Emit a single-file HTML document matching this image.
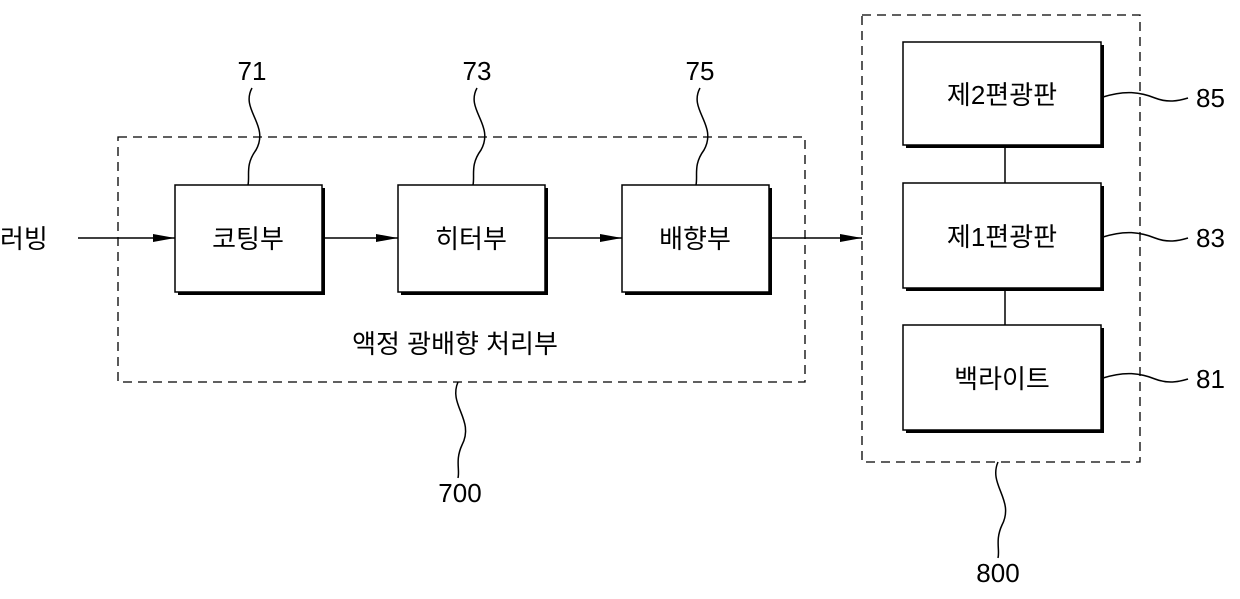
<!DOCTYPE html>
<html><head><meta charset="utf-8"><style>
html,body{margin:0;padding:0;background:#fff;}
svg text{font-family:"Liberation Sans","Noto Sans CJK KR",sans-serif;fill:#000;}
</style></head><body>
<svg width="1240" height="594" viewBox="0 0 1240 594" xmlns="http://www.w3.org/2000/svg">
<defs><marker id="a" markerWidth="22" markerHeight="10" refX="22" refY="5" orient="auto" markerUnits="userSpaceOnUse"><path d="M0,1 L22,5 L0,9 Z" fill="#000"/></marker></defs>
<g fill="none" stroke="#000" stroke-width="1.3" stroke-dasharray="9,6">
<rect x="118" y="137" width="687" height="245"/>
<rect x="862" y="15" width="278" height="447"/>
</g>
<g fill="#000">
<rect x="178" y="188" width="147" height="107"/>
<rect x="401" y="188" width="147" height="107"/>
<rect x="625" y="188" width="147" height="107"/>
<rect x="906" y="45" width="198" height="103"/>
<rect x="906" y="186" width="198" height="105"/>
<rect x="906" y="328" width="198" height="105"/>
</g>
<g fill="#fff" stroke="#000" stroke-width="1.5">
<rect x="175" y="185" width="147" height="107"/>
<rect x="398" y="185" width="147" height="107"/>
<rect x="622" y="185" width="147" height="107"/>
<rect x="903" y="42" width="198" height="103"/>
<rect x="903" y="183" width="198" height="105"/>
<rect x="903" y="325" width="198" height="105"/>
</g>
<g stroke="#000" stroke-width="1.5" fill="none">
<line x1="78" y1="238" x2="175" y2="238" marker-end="url(#a)"/>
<line x1="325" y1="238" x2="398" y2="238" marker-end="url(#a)"/>
<line x1="548" y1="238" x2="622" y2="238" marker-end="url(#a)"/>
<line x1="772" y1="238" x2="862" y2="238" marker-end="url(#a)"/>
<line x1="1005" y1="148" x2="1005" y2="183"/>
<line x1="1005" y1="291" x2="1005" y2="325"/>
<path d="M252,88 C240,110 270,125 256,150 C245,165 250,175 248,185"/>
<path d="M477,88 C465,110 495,125 481,150 C470,165 475,175 473,185"/>
<path d="M700,88 C688,110 718,125 704,150 C693,165 698,175 696,185"/>
<path d="M1103,97 C1125,90 1140,92 1155,98 C1168,103 1178,101 1188,98"/>
<path d="M1103,237 C1125,230 1140,232 1155,238 C1168,243 1178,241 1188,238"/>
<path d="M1103,378 C1125,371 1140,373 1155,379 C1168,384 1178,382 1188,379"/>
<path d="M458,382 C448,405 475,420 462,445 C455,460 460,470 458,478"/>
<path d="M998,462 C988,485 1015,500 1002,525 C995,540 1000,550 998,558"/>
</g>
<g font-size="26">
<text x="252" y="80" text-anchor="middle">71</text>
<text x="477" y="80" text-anchor="middle">73</text>
<text x="700" y="80" text-anchor="middle">75</text>
<text x="1196" y="107">85</text>
<text x="1196" y="247">83</text>
<text x="1196" y="388">81</text>
<text x="460" y="502" text-anchor="middle">700</text>
<text x="998" y="582" text-anchor="middle">800</text>
<text x="0" y="248">러빙</text>
<text x="248" y="248" text-anchor="middle">코팅부</text>
<text x="471" y="248" text-anchor="middle">히터부</text>
<text x="695" y="248" text-anchor="middle">배향부</text>
<text x="1002" y="104" text-anchor="middle">제2편광판</text>
<text x="1002" y="246" text-anchor="middle">제1편광판</text>
<text x="1002" y="388" text-anchor="middle">백라이트</text>
<text x="455" y="353" text-anchor="middle">액정 광배향 처리부</text>
</g>
</svg>
</body></html>
